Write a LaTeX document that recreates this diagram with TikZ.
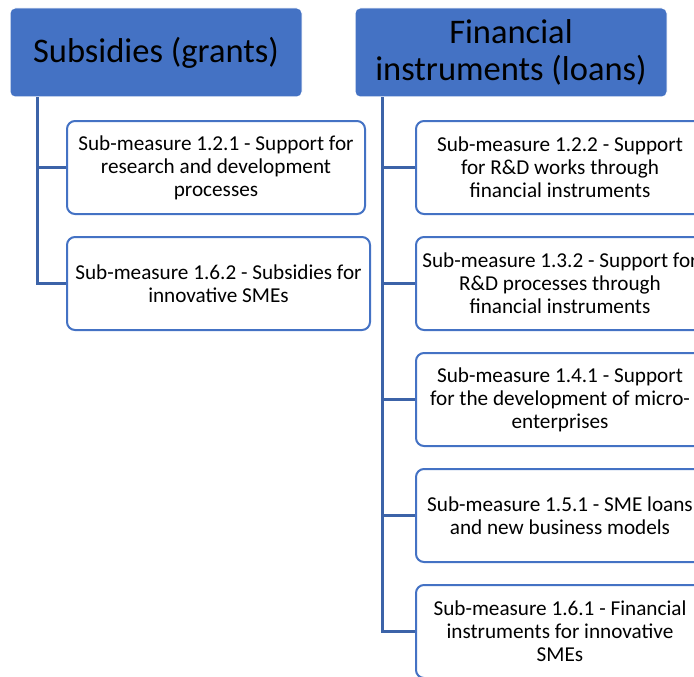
\documentclass[tikz,border=0pt]{standalone}
\usepackage{fontspec}
\setmainfont{Carlito}
\definecolor{accent}{HTML}{4472C4}
\definecolor{linkblue}{HTML}{3C63A8}
\tikzset{
    head/.style={rectangle, rounded corners=5pt, fill=accent, draw=white, line width=1pt,
        align=center, font=\fontsize{34.5}{37}\selectfont, minimum height=89pt, inner sep=0pt},
    sub/.style={rectangle, rounded corners=8pt, fill=white, draw=accent, line width=2pt,
        align=center, font=\fontsize{21.2}{23}\selectfont, minimum height=93pt, inner sep=0pt},
    link/.style={draw=linkblue, line width=2.2pt}
}
\begin{document}
\begin{tikzpicture}[x=1pt, y=-1pt]
            \useasboundingbox (0, 0) rectangle (694, 677);
            \clip (0, 0) rectangle (694, 677);
            % headers
            \node[head, minimum width=292pt] (subs) at (156, 52.5) {Subsidies (grants)};
            \node[head, minimum width=312pt] (fin) at (511, 52.5) {Financial\\instruments (loans)};
            % grants
            \node[sub, minimum width=298pt] (g1) at (216, 167.5) {Sub-measure 1.2.1 - Support for\\research and development\\processes};
            \node[sub, minimum width=303pt] (g2) at (218.5, 283.5) {Sub-measure 1.6.2 - Subsidies for\\innovative SMEs};
            % loans
            \node[sub, minimum width=288pt] (l1) at (560, 167.5) {Sub-measure 1.2.2 - Support\\for R\&D works through\\financial instruments};
            \node[sub, minimum width=288pt] (l2) at (560, 283.5) {Sub-measure 1.3.2 - Support for\\R\&D processes through\\financial instruments};
            \node[sub, minimum width=288pt] (l3) at (560, 399.5) {Sub-measure 1.4.1 - Support\\for the development of micro-\\enterprises};
            \node[sub, minimum width=288pt] (l4) at (560, 515.5) {Sub-measure 1.5.1 - SME loans\\and new business models};
            \node[sub, minimum width=288pt] (l5) at (560, 631.5) {Sub-measure 1.6.1 - Financial\\instruments for innovative\\SMEs};
            \draw[link] ([xshift=28pt]subs.south west) |- (g1.west);
            \draw[link] ([xshift=28pt]subs.south west) |- (g2.west);
            \foreach \n in {l1, l2, l3, l4, l5}
                \draw[link] ([xshift=28pt]fin.south west) |- (\n.west);
        \end{tikzpicture}
\end{document}
